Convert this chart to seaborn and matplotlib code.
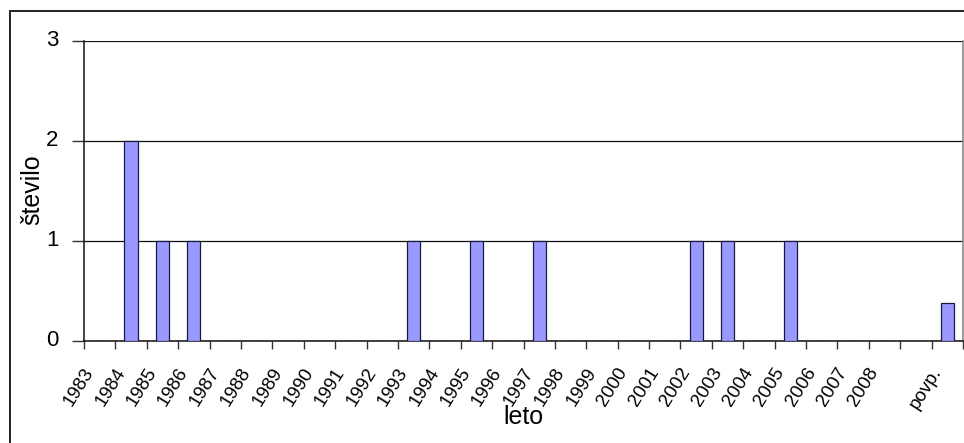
import numpy as np
import pandas as pd
import matplotlib
matplotlib.use("Agg")
import matplotlib.pyplot as plt
from matplotlib.patches import Rectangle
from matplotlib.transforms import ScaledTranslation
import seaborn as sns

# Number of events per year
years = [str(y) for y in range(1983, 2009)]
counts = [0, 2, 1, 1, 0, 0, 0, 0, 0, 0, 1, 0, 1, 0, 1, 0, 0, 0, 0, 1, 1, 0, 1, 0, 0, 0]
avg_label = "povp."
avg_value = float(np.mean(counts))

categories = years + [" ", avg_label]
df = pd.DataFrame({"leto": years + [avg_label], "stevilo": counts + [avg_value]})

sns.set_style("white", {"text.color": "black", "axes.labelcolor": "black",
                        "xtick.color": "black", "ytick.color": "black"})
plt.rcParams["font.family"] = ["Liberation Sans", "DejaVu Sans"]

W, H = 964, 443
fig = plt.figure(figsize=(W / 100, H / 100), dpi=100)
ax = fig.add_axes([84 / W, 1 - 341 / H, (963 - 84) / W, 300 / H])

sns.barplot(data=df, x="leto", y="stevilo", order=categories, ax=ax,
            color="#9999FF", saturation=1, width=0.42,
            edgecolor="#1a1a40", linewidth=0.9, zorder=3)

# outer chart frame
fig.patches.append(Rectangle((10 / W, -0.05), 1.2, 1 - 11 / H + 0.05,
                             transform=fig.transFigure, fill=False,
                             edgecolor="#222222", linewidth=1.4, zorder=0))

ax.set_xlim(-0.5, len(categories) - 0.5)
ax.set_ylim(0, 3)
ax.set_yticks([0, 1, 2, 3])
ax.yaxis.grid(True, color="#111111", linewidth=0.9, zorder=0)
ax.set_axisbelow(True)

ax.set_xticks(range(len(categories)))
ax.set_xticklabels(categories, rotation=58, ha="right", va="center",
                   rotation_mode="anchor", fontsize=13.5)
ax.set_xticks(np.arange(-0.5, len(categories) + 0.5, 1), minor=True)
ax.tick_params(axis="x", which="major", length=0, pad=20.2, labelcolor="black")
ax.tick_params(axis="x", which="minor", length=6, width=1, color="#333333",
               direction="out", bottom=True)
ax.tick_params(axis="y", length=9, width=1, color="#333333", direction="out",
               left=True, labelsize=16, pad=9.5, labelcolor="black")

# slanted year labels sit a little left of each category centre,
# value labels sit slightly above their gridlines
xshift = ScaledTranslation(-9.6 / 100, 0, fig.dpi_scale_trans)
for lbl in ax.get_xticklabels():
    lbl.set_transform(lbl.get_transform() + xshift)
yshift = ScaledTranslation(0, 3 / 100, fig.dpi_scale_trans)
for lbl in ax.get_yticklabels():
    lbl.set_transform(lbl.get_transform() + yshift)

for side in ["left", "bottom"]:
    ax.spines[side].set_color("#111111")
    ax.spines[side].set_linewidth(1.1)
ax.spines["top"].set_visible(False)
ax.spines["right"].set_color("#888888")
ax.spines["right"].set_linewidth(1.2)

ax.set_xlabel("leto", fontsize=18, va="top", color="black")
ax.xaxis.set_label_coords(0.5, -0.215)
ax.set_ylabel("število", fontsize=18, va="center", color="black")
ax.yaxis.set_label_coords(-0.059, 0.505)

fig.savefig("out.png", dpi=100, facecolor="white")
